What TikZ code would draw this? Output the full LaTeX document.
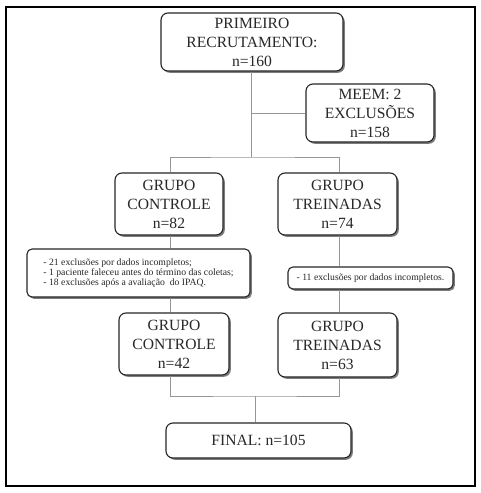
\documentclass[tikz,border=0pt]{standalone}
\usepackage{fontspec}
\setmainfont{Liberation Serif}
\usepackage{tikz}
\usetikzlibrary{positioning,shadows,calc}
\definecolor{linkGray}{RGB}{150,150,150}
\definecolor{textDark}{RGB}{40,40,40}

\begin{document}
\begin{tikzpicture}[x=1pt,y=-1pt,
  every node/.style={text=textDark},
  stagebox/.style={draw=black!85,line width=1.1pt,rounded corners=7pt,fill=white,
    align=center,inner sep=0pt,
    drop shadow={shadow xshift=1.8pt,shadow yshift=-1.8pt,fill=black!60,opacity=0.85},
    font=\fontsize{15.6}{19}\selectfont},
  notebox/.style={stagebox,rounded corners=5pt,align=left,inner xsep=5pt,
    font=\fontsize{9.7}{10}\selectfont},
  link/.style={draw=linkGray,line width=0.9pt}]
  % frame
  \useasboundingbox (0,0) rectangle (480,493);
  \fill[white](0,0) rectangle (480,493);
  \draw[line width=1.4pt](6,7) rectangle (475,486);
  % recruitment
  \node[stagebox,minimum width=182,minimum height=58] (prim) at (252,42)
    {PRIMEIRO\\RECRUTAMENTO:\\n=160};
  \node[stagebox,minimum width=128,minimum height=58] (meem) at (370,113)
    {MEEM: 2\\EXCLUSÕES\\n=158};
  % groups
  \node[stagebox,minimum width=108,minimum height=62] (ctrl) at (169,204)
    {GRUPO\\CONTROLE\\n=82};
  \node[stagebox,minimum width=119,minimum height=62] (trein) at (337.5,204)
    {GRUPO\\TREINADAS\\n=74};
  % exclusions
  \node[notebox,minimum width=223,minimum height=48] (excA) at (138.5,273)
    {- 21 exclusões por dados incompletos;\\
     - 1 paciente faleceu antes do término das coletas;\\
     - 18 exclusões após a avaliação\ \ do IPAQ.};
  \node[notebox,minimum width=165,minimum height=22] (excB) at (370.5,278)
    {- 11 exclusões por dados incompletos.};
  % final groups
  \node[stagebox,minimum width=110,minimum height=62] (ctrlF) at (174,344)
    {GRUPO\\CONTROLE\\n=42};
  \node[stagebox,minimum width=119,minimum height=64] (treinF) at (337.5,345)
    {GRUPO\\TREINADAS\\n=63};
  \node[stagebox,minimum width=185,minimum height=35] (final) at (258.5,440.5)
    {FINAL: n=105};
  % connectors
  \coordinate (split) at (251,157);
  \coordinate (join) at (255,396);
  \coordinate (ctrlX) at (170,0);
  \coordinate (treinX) at (339,0);
  \draw[link] (split |- prim.south) -- (split);
  \draw[link] (split |- meem.west) -- (meem.west);
  \draw[link] (ctrlX |- ctrl.north) |- (split) -| (treinX |- trein.north);
  \draw[link] (ctrlX |- ctrl.south) -- (ctrlX |- excA.north);
  \draw[link] (ctrlX |- excA.south) -- (ctrlX |- ctrlF.north);
  \draw[link] (treinX |- trein.south) -- (treinX |- excB.north);
  \draw[link] (treinX |- excB.south) -- (treinX |- treinF.north);
  \draw[link] (ctrlX |- ctrlF.south) |- (join) -| (treinX |- treinF.south);
  \draw[link] (join) -- (join |- final.north);
\end{tikzpicture}
\end{document}
